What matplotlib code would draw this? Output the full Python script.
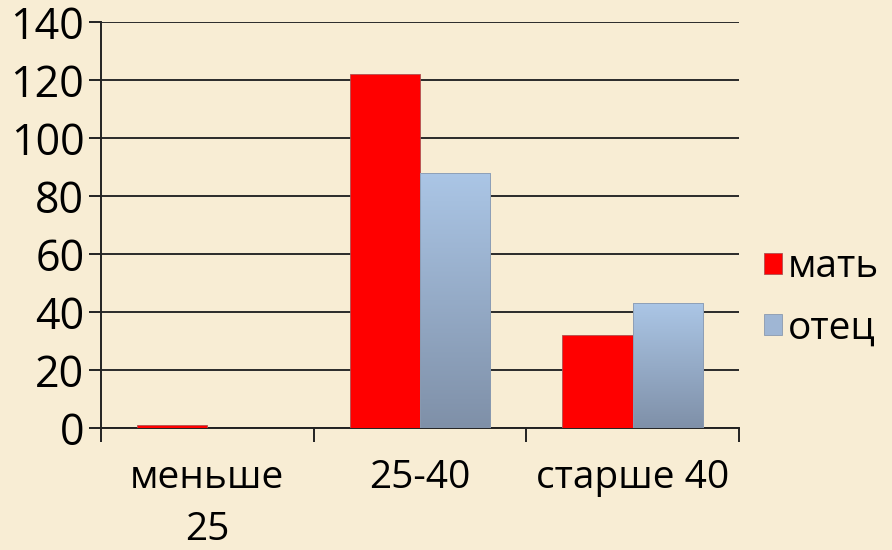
import numpy as np
import matplotlib
matplotlib.use("Agg")
import matplotlib.pyplot as plt
from matplotlib.patches import Patch

categories = ["меньше\n25", "25-40", "старше 40"]
mother = [1, 122, 32]
father = [0, 88, 43]
series_names = ["мать", "отец"]
y_ticks = [0, 20, 40, 60, 80, 100, 120, 140]

plt.rcParams["font.family"] = ["Open Sans", "DejaVu Sans"]

bg = "#f8edd4"
fig = plt.figure(figsize=(8.92, 5.5), dpi=100, facecolor=bg)
ax = fig.add_axes([0.1132, 0.2218, 0.7153, 0.7382])
ax.set_facecolor(bg)

x = np.arange(len(categories))
w = 0.33

ax.bar(x - w / 2, mother, w, color="#ff0000", edgecolor="#b05050", linewidth=0.6, zorder=3)
blue_bars = ax.bar(x + w / 2, father, w, color="none", edgecolor="#8a9ab0", linewidth=0.6, zorder=4)

# vertical gradient for the blue bars
grad = np.linspace(0, 1, 256).reshape(-1, 1)
cmap = matplotlib.colors.LinearSegmentedColormap.from_list("b", ["#7f90a8", "#abc6e6"])
for b in blue_bars:
    if b.get_height() <= 0:
        continue
    x0, y0 = b.get_x(), b.get_y()
    im = ax.imshow(grad, cmap=cmap, origin="lower", aspect="auto",
                   extent=[x0, x0 + b.get_width(), y0, y0 + b.get_height()], zorder=3)
    im.set_clip_path(b)

ax.set_xlim(-0.5, len(categories) - 0.5)
ax.set_ylim(0, 140)
ax.set_yticks(y_ticks)
ax.yaxis.grid(True, color="#2a2a2a", linewidth=1.4, zorder=1)
ax.set_axisbelow(True)

ax.set_xticks(x)
ax.set_xticklabels(categories, fontsize=28, linespacing=1.5)
ax.set_xticks(np.arange(len(categories) + 1) - 0.5, minor=True)
ax.tick_params(axis="x", which="major", length=0, pad=22)
ax.tick_params(axis="x", which="minor", length=10, width=1.4, color="#222222", direction="out")
ax.tick_params(axis="y", labelsize=31, length=9, width=1.4, color="#222222", pad=3)

for s in ["top", "right"]:
    ax.spines[s].set_visible(False)
for s in ["left", "bottom"]:
    ax.spines[s].set_linewidth(1.4)
    ax.spines[s].set_color("#222222")

handles = [Patch(facecolor="#ff0000", edgecolor="#b05050", linewidth=0.6),
           Patch(facecolor="#9fb6d4", edgecolor="#8a9ab0", linewidth=0.6)]
ax.legend(handles, series_names, loc="center left", bbox_to_anchor=(1.015, 0.32),
          frameon=False, fontsize=28, handlelength=0.45, handleheight=0.45,
          handletextpad=0.15, labelspacing=0.6, borderaxespad=0)

fig.savefig("out.png", dpi=100, facecolor=bg)
